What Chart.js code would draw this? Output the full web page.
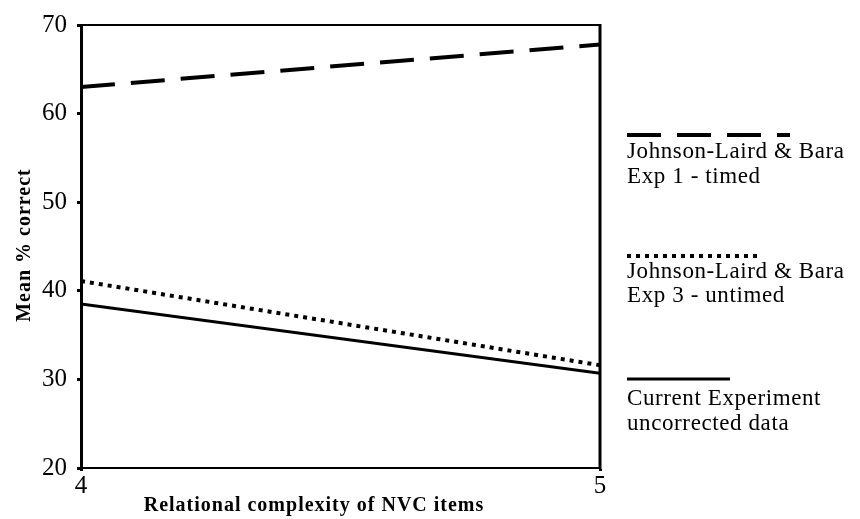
<!DOCTYPE html>
<html><head><meta charset="utf-8">
<script src="https://cdn.jsdelivr.net/npm/chart.js@4.4.1/dist/chart.umd.min.js"></script>
<style>html,body{margin:0;padding:0;background:#fff}#wrap{width:860px;height:519px;position:relative}</style>
</head><body><div id="wrap"><canvas id="c" width="860" height="519"></canvas></div>
<script>
const xValues = [4, 5];
const yTicks = [20, 30, 40, 50, 60, 70];
const seriesNames = [
  ["Johnson-Laird & Bara", "Exp 1 - timed"],
  ["Johnson-Laird & Bara", "Exp 3 - untimed"],
  ["Current Experiment", "uncorrected data"]
];
const exp1Timed = [63.0, 67.8];
const exp3Untimed = [41.1, 31.6];
const currentUncorrected = [38.5, 30.7];
const xTitle = "Relational complexity of NVC items";
const yTitle = "Mean % correct";

const pts = arr => xValues.map((x, i) => ({x: x, y: arr[i]}));
const SERIF = '"Liberation Serif", "Times New Roman", serif';

const legendPlugin = {
  id: 'customDecor',
  afterDraw(chart) {
    const ctx = chart.ctx;
    const a = chart.chartArea;
    ctx.save();
    // top and right frame
    ctx.strokeStyle = '#000';
    ctx.lineWidth = 2;
    ctx.beginPath(); ctx.moveTo(a.left, a.top); ctx.lineTo(a.right, a.top); ctx.stroke();
    ctx.lineWidth = 3;
    ctx.beginPath(); ctx.moveTo(a.right, a.top - 1); ctx.lineTo(a.right, a.bottom + 1); ctx.stroke();
    // legend
    const lx = 627;
    const groups = [
      {y: 135, len: 163, t: [158, 183]},
      {y: 256, len: 131, t: [278, 302]},
      {y: 379, len: 103, t: [405, 430]}
    ];
    chart.data.datasets.forEach((ds, i) => {
      const g = groups[i];
      ctx.strokeStyle = ds.borderColor;
      ctx.lineWidth = ds.borderWidth;
      ctx.setLineDash(ds.borderDash || []);
      ctx.beginPath(); ctx.moveTo(lx, g.y); ctx.lineTo(lx + g.len, g.y); ctx.stroke();
      ctx.setLineDash([]);
      ctx.fillStyle = '#000';
      ctx.font = '23px ' + SERIF;
      ctx.textBaseline = 'alphabetic';
      ctx.textAlign = 'left';
      ctx.letterSpacing = '0.6px';
      seriesNames[i].forEach((s, k) => ctx.fillText(s, lx, g.t[k]));
    });
    // axis titles
    ctx.letterSpacing = '1px';
    ctx.font = 'bold 20px ' + SERIF;
    ctx.textAlign = 'center';
    ctx.textBaseline = 'alphabetic';
    ctx.fillText(xTitle, 314, 511);
    ctx.translate(30, 245);
    ctx.rotate(-Math.PI / 2);
    ctx.fillText(yTitle, 0, 0);
    ctx.restore();
  }
};

new Chart(document.getElementById('c'), {
  type: 'line',
  data: {
    datasets: [
      {label: seriesNames[0].join(' '), data: pts(exp1Timed), borderColor: '#000', borderWidth: 4, borderDash: [34, 16], pointRadius: 0, fill: false, tension: 0},
      {label: seriesNames[1].join(' '), data: pts(exp3Untimed), borderColor: '#000', borderWidth: 4, borderDash: [4, 5], pointRadius: 0, fill: false, tension: 0},
      {label: seriesNames[2].join(' '), data: pts(currentUncorrected), borderColor: '#000', borderWidth: 3, pointRadius: 0, fill: false, tension: 0}
    ]
  },
  options: {
    responsive: false,
    animation: false,
    events: [],
    layout: {padding: {left: 0, right: 260, top: 21, bottom: 0}},
    plugins: {legend: {display: false}, tooltip: {enabled: false}, title: {display: false}},
    scales: {
      x: {
        type: 'linear', min: 4, max: 5,
        afterFit(s) { s.height = 51; },
        afterBuildTicks(s) { s.ticks = xValues.map(v => ({value: v})); },
        ticks: {color: '#000', font: {family: SERIF, size: 25}, padding: 0, maxRotation: 0, autoSkip: false},
        grid: {drawOnChartArea: false, drawTicks: true, tickLength: 3, tickWidth: 3, color: '#000'},
        border: {display: true, color: '#000', width: 2}
      },
      y: {
        type: 'linear', min: 20, max: 70,
        afterFit(s) { s.width = 81; },
        afterBuildTicks(s) { s.ticks = yTicks.map(v => ({value: v})); },
        ticks: {color: '#000', font: {family: SERIF, size: 25}, padding: 10},
        grid: {drawOnChartArea: false, drawTicks: true, tickLength: 4, tickWidth: 3, color: '#000'},
        border: {display: true, color: '#000', width: 3}
      }
    }
  },
  plugins: [legendPlugin]
});
</script></body></html>
